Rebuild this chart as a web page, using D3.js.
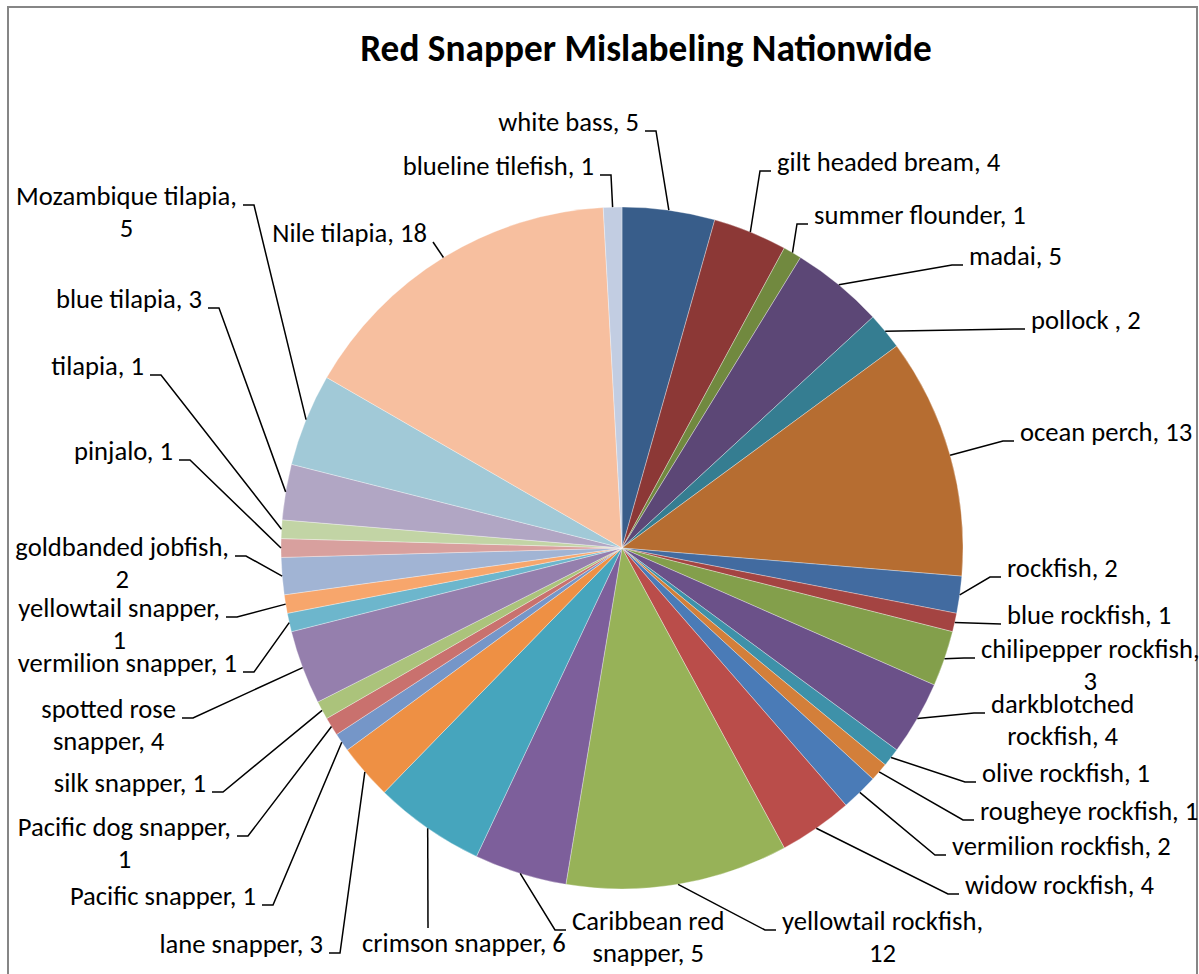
<!DOCTYPE html>
<html><head><meta charset="utf-8">
<script src="https://cdn.jsdelivr.net/npm/d3@7"></script>
<style>html,body{margin:0;padding:0;background:#fff;} svg{display:block;}</style>
</head><body>
<svg id="chart" width="1199" height="974"></svg>
<script>
const chartTitle = "Red Snapper Mislabeling Nationwide";

const categories = [
  "white bass", "gilt headed bream", "summer flounder", "madai", "pollock ",
  "ocean perch", "rockfish", "blue rockfish", "chilipepper rockfish", "darkblotched rockfish",
  "olive rockfish", "rougheye rockfish", "vermilion rockfish", "widow rockfish", "yellowtail rockfish",
  "Caribbean red snapper", "crimson snapper", "lane snapper", "Pacific snapper", "Pacific dog snapper",
  "silk snapper", "spotted rose snapper", "vermilion snapper", "yellowtail snapper", "goldbanded jobfish",
  "pinjalo", "tilapia", "blue tilapia", "Mozambique tilapia", "Nile tilapia", "blueline tilefish"
];

const values = [
  5, 4, 1, 5, 2,
  13, 2, 1, 3, 4,
  1, 1, 2, 4, 12,
  5, 6, 3, 1, 1,
  1, 4, 1, 1, 2,
  1, 1, 3, 5, 18, 1
];

const palette = [
  "#385D8A", "#8C3836", "#71893F", "#5C4776", "#357D91",
  "#B66D31", "#426BA0", "#A44442", "#839F4B", "#6B5189",
  "#3E91A9", "#D37F3A", "#4A7BB7", "#BA4D4A", "#97B258",
  "#7D5F9B", "#46A5BD", "#EE9044", "#7596C8", "#C9716E",
  "#ABC37B", "#957FAD", "#6DB6CC", "#F7A66C", "#A1B4D4",
  "#D8A09E", "#C2D4A5", "#B1A6C4", "#A1C9D7", "#F7BF9F", "#C2CDE2"
];

// label placement (x = text edge next to the leader, y = baseline of first line)
const labelLayout = [
  {x: 639, y: 131, anchor: "end"},
  {x: 777, y: 171, anchor: "start"},
  {x: 814, y: 224, anchor: "start"},
  {x: 969, y: 265, anchor: "start"},
  {x: 1031, y: 329, anchor: "start"},
  {x: 1020, y: 441, anchor: "start"},
  {x: 1007, y: 577, anchor: "start"},
  {x: 1007, y: 624, anchor: "start", tail: 0},
  {x: 981, y: 658, anchor: "start", split: "v"},
  {x: 991, y: 713, anchor: "start", split: 1},
  {x: 982, y: 782, anchor: "start"},
  {x: 980, y: 820, anchor: "start"},
  {x: 952, y: 855, anchor: "start"},
  {x: 965, y: 894, anchor: "start"},
  {x: 782, y: 930, anchor: "start", split: "v"},
  {x: 572, y: 930, anchor: "start", split: 2},
  {x: 362, y: 952, anchor: "start", tail: 0, px: 428, py: 928},
  {x: 323, y: 953, anchor: "end"},
  {x: 256, y: 905, anchor: "end"},
  {x: 231, y: 836, anchor: "end", split: "v"},
  {x: 206, y: 792, anchor: "end"},
  {x: 176, y: 718, anchor: "end", split: 2},
  {x: 237, y: 672, anchor: "end"},
  {x: 220, y: 617, anchor: "end", split: "v"},
  {x: 229, y: 556, anchor: "end", split: "v"},
  {x: 173, y: 460, anchor: "end"},
  {x: 144, y: 375, anchor: "end"},
  {x: 202, y: 308, anchor: "end"},
  {x: 237, y: 205, anchor: "end", split: "v"},
  {x: 427, y: 242, anchor: "end", tail: 0},
  {x: 594, y: 175, anchor: "end"}
];

const W = 1199, H = 974;
const cx = 622, cy = 548, R = 341;
const FONT = "Carlito, Calibri, Lato, 'Open Sans', sans-serif";
const LINE_H = 32, GAP = 6, TAIL = 11;

const svg = d3.select("#chart");

function measure(text, size, weight) {
  const t = svg.append("text").attr("font-family", FONT).attr("font-size", size)
    .attr("font-weight", weight || "normal").text(text);
  const w = t.node().getComputedTextLength();
  t.remove();
  return w;
}
const labelSize = 100 * 221 / measure("Mozambique tilapia,", 100);
const titleSize = 100 * 572 / measure(chartTitle, 100, "bold");

// chart border
svg.append("rect").attr("x", 8).attr("y", 7).attr("width", 1189).attr("height", 990)
  .attr("fill", "#fff").attr("stroke", "#868686").attr("stroke-width", 2);

// title
svg.append("text").attr("x", 646).attr("y", 61).attr("text-anchor", "middle")
  .attr("font-family", FONT).attr("font-weight", "bold").attr("font-size", titleSize)
  .attr("fill", "#000").text(chartTitle);

const data = categories.map((c, i) => ({name: c, value: values[i], color: palette[i], layout: labelLayout[i]}));
const pie = d3.pie().sort(null).value(d => d.value).startAngle(0).endAngle(2 * Math.PI);
const arcs = pie(data);
const arc = d3.arc().innerRadius(0).outerRadius(R);
const edge = d3.arc().innerRadius(R).outerRadius(R);

const g = svg.append("g").attr("transform", `translate(${cx},${cy})`);
g.selectAll("path.slice").data(arcs).join("path").attr("class", "slice")
  .attr("d", arc).attr("fill", d => d.data.color)
  .attr("stroke", "#ffffff").attr("stroke-opacity", 0.55).attr("stroke-width", 0.6);

// labels + leader lines
const lg = svg.append("g");
arcs.forEach(d => {
  const L = d.data.layout;
  const label = d.data.name + ", " + d.data.value;
  let lines;
  if (L.split === "v") lines = [d.data.name + ",", String(d.data.value)];
  else if (typeof L.split === "number") {
    const words = d.data.name.split(" ");
    lines = [words.slice(0, L.split).join(" "), words.slice(L.split).join(" ") + ", " + d.data.value];
  } else lines = [label];

  const widths = lines.map(s => measure(s, labelSize));
  const bw = d3.max(widths);
  const left = L.anchor === "start" ? L.x : L.x - bw;
  const center = left + bw / 2;
  const t = lg.append("text").attr("font-family", FONT).attr("font-size", labelSize)
    .attr("fill", "#000").attr("text-anchor", "middle");
  lines.forEach((s, i) => {
    t.append("tspan").attr("x", center).attr("y", L.y + i * LINE_H).text(s);
  });

  const [ax, ay] = edge.centroid(d);
  const p0 = [cx + ax, cy + ay];
  const dir = L.anchor === "start" ? -1 : 1;
  const tail = L.tail === undefined ? TAIL : L.tail;
  const tip = L.px !== undefined ? [L.px, L.py] : [L.x + dir * GAP, L.y];
  const elbow = [tip[0] + dir * tail, tip[1]];
  lg.append("path").attr("d", d3.line()([p0, elbow, tip]))
    .attr("fill", "none").attr("stroke", "#000").attr("stroke-width", 1.5);
});
</script>
</body></html>
